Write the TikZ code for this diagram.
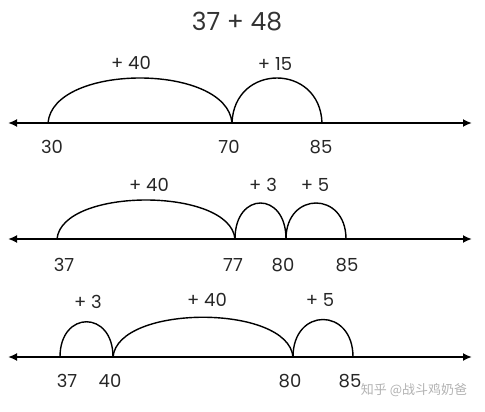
\documentclass[tikz,border=0pt]{standalone}
\usepackage{fontspec}
\setmainfont{Poppins}
\newfontfamily\cjk{Noto Sans CJK SC}
\usetikzlibrary{arrows.meta}

\tikzset{
  numline/.style={line width=1.8pt,{Latex[length=9pt,width=8pt]}-{Latex[length=9pt,width=8pt]}},
  hop/.style={line width=1.4pt},
  jump/.style={font=\fontsize{18}{18}\selectfont,text=black!85},
  tick/.style={font=\fontsize{18}{18}\selectfont,text=black!85}
}

\begin{document}
\begin{tikzpicture}[x=1pt,y=-1pt]
\useasboundingbox (0,0) rectangle (485,412);
\node [text=black!80] (title) at (237,22) {\fontsize{25}{25}\selectfont 37 + 48};
%
% first line: 30 -> 70 -> 85
\coordinate (aL) at (8,123);
\coordinate (aR) at (472,123);
\draw [numline] (aL) -- (aR);
\coordinate (a30) at (48,123);
\coordinate (a70) at (232,123);
\coordinate (a85) at (322,123);
\draw [hop] (a30) .. controls +(5,-60) and +(-5,-60) .. (a70);
\draw [hop] (a70) .. controls +(2,-60) and +(-2,-60) .. (a85);
\node [jump] (j40a) at (131,63) {+ 40};
\node [jump] (j15a) at (275,64) {+ 15};
\node [tick] (t30) at (52,147) {30};
\node [tick] (t70) at (229,147) {70};
\node [tick] (t85) at (321,147) {85};
%
% second line: 37 -> 77 -> 80 -> 85
\coordinate (bL) at (8,239);
\coordinate (bR) at (472,239);
\draw [numline] (bL) -- (bR);
\coordinate (b37) at (57,239);
\coordinate (b77) at (235,239);
\coordinate (b80) at (286,239);
\coordinate (b85) at (346,239);
\draw [hop] (b37) .. controls +(5,-52) and +(-5,-52) .. (b77);
\draw [hop] (b77) .. controls +(0,-48) and +(0,-48) .. (b80);
\draw [hop] (b80) .. controls +(0,-48) and +(0,-48) .. (b85);
\node [jump] (j40b) at (149,185) {+ 40};
\node [jump] (j3b) at (263,185) {+ 3};
\node [jump] (j5b) at (315,185) {+ 5};
\node [tick] (t37b) at (64,265) {37};
\node [tick] (t77b) at (233,265) {77};
\node [tick] (t80b) at (283,265) {80};
\node [tick] (t85b) at (347,265) {85};
%
% third line: 37 -> 40 -> 80 -> 85
\coordinate (cL) at (8,357);
\coordinate (cR) at (472,357);
\draw [numline] (cL) -- (cR);
\coordinate (c37) at (60,357);
\coordinate (c40) at (113,357);
\coordinate (c80) at (293,357);
\coordinate (c85) at (353,357);
\draw [hop] (c37) .. controls +(0,-47) and +(0,-47) .. (c40);
\draw [hop] (c40) .. controls +(5,-53) and +(-5,-53) .. (c80);
\draw [hop] (c80) .. controls +(0,-50) and +(0,-50) .. (c85);
\node [jump] (j3c) at (88,302) {+ 3};
\node [jump] (j40c) at (207,300) {+ 40};
\node [jump] (j5c) at (320,300) {+ 5};
\node [tick] (t37c) at (67,381) {37};
\node [tick] (t40c) at (110,381) {40};
\node [tick] (t80c) at (290,381) {80};
\node [tick] (t85c) at (350,381) {85};
\node [text=black!30] (mark) at (414,390) {\cjk\fontsize{13}{13}\selectfont 知乎 @战斗鸡奶爸};
\end{tikzpicture}
\end{document}
